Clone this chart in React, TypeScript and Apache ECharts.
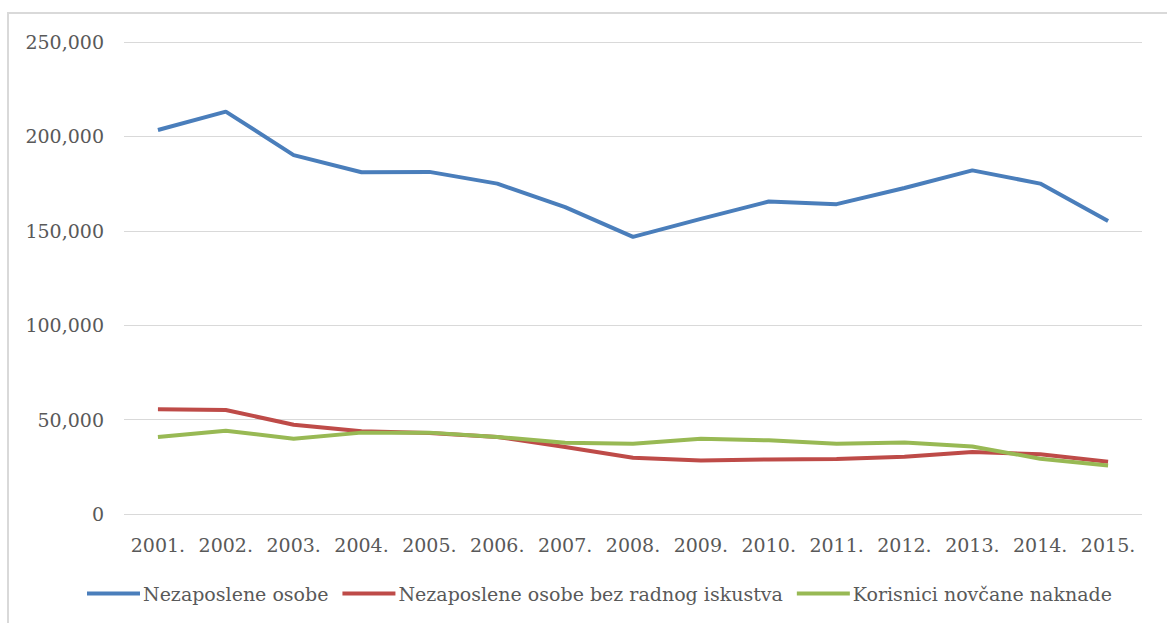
import React, { useEffect, useRef } from "react";
import * as echarts from "echarts";

const years = ["2001.", "2002.", "2003.", "2004.", "2005.", "2006.", "2007.", "2008.", "2009.", "2010.", "2011.", "2012.", "2013.", "2014.", "2015."];
const nezaposlene = [203400, 213100, 190100, 181000, 181200, 175000, 162500, 146800, 156300, 165500, 164100, 172700, 182000, 175000, 155200];
const bezIskustva = [55500, 55100, 47300, 43800, 42900, 40800, 35500, 29800, 28400, 28900, 29100, 30300, 32800, 31600, 27700];
const korisnici = [40800, 44100, 39900, 43100, 43100, 40800, 37800, 37200, 39900, 39000, 37200, 37900, 35800, 29300, 25700];
const seriesNames = ["Nezaposlene osobe", "Nezaposlene osobe bez radnog iskustva", "Korisnici novčane naknade"];

const FONT = "DejaVu Serif";

export default function App() {
  const ref = useRef<HTMLDivElement>(null);
  useEffect(() => {
    if (!ref.current) return;
    const chart = echarts.init(ref.current, undefined, { renderer: "svg" });
    const mk = (name: string, data: number[], color: string) => ({
      name,
      type: "line",
      data,
      symbol: "none",
      lineStyle: { color, width: 4 },
      itemStyle: { color },
    });
    chart.setOption({
      animation: false,
      backgroundColor: "#ffffff",
      graphic: [
        {
          type: "rect",
          shape: { x: 8, y: 13, width: 1200, height: 650 },
          style: { fill: "none", stroke: "#d9d9d9", lineWidth: 2 },
          silent: true,
        },
      ],
      grid: { left: 124, right: 25, top: 42, bottom: 109 },
      xAxis: {
        type: "category",
        data: years,
        boundaryGap: true,
        axisLine: { show: false },
        axisTick: { show: false },
        axisLabel: { color: "#595959", fontFamily: FONT, fontSize: 19, margin: 21, interval: 0, hideOverlap: false },
      },
      yAxis: {
        type: "value",
        min: 0,
        max: 250000,
        interval: 50000,
        axisLine: { show: false },
        axisTick: { show: false },
        splitLine: { lineStyle: { color: "#d9d9d9", width: 1 } },
        axisLabel: {
          color: "#595959",
          fontFamily: FONT,
          fontSize: 19,
          margin: 20,
          formatter: (v: number) => v.toLocaleString("en-US"),
        },
      },
      legend: {
        bottom: 15,
        left: 82,
        icon: "rect",
        itemWidth: 53,
        itemHeight: 4,
        itemGap: 14,
        textStyle: { color: "#595959", fontFamily: FONT, fontSize: 19, padding: [0, 0, 0, -2] },
        data: seriesNames,
      },
      series: [
        mk(seriesNames[0], nezaposlene, "#4a7ebb"),
        mk(seriesNames[1], bezIskustva, "#be4b48"),
        mk(seriesNames[2], korisnici, "#98b954"),
      ],
    });
    return () => chart.dispose();
  }, []);
  return (
    <div
      ref={ref}
      style={{ position: "fixed", left: 0, top: 0, width: 1167, height: 623 }}
    />
  );
}
